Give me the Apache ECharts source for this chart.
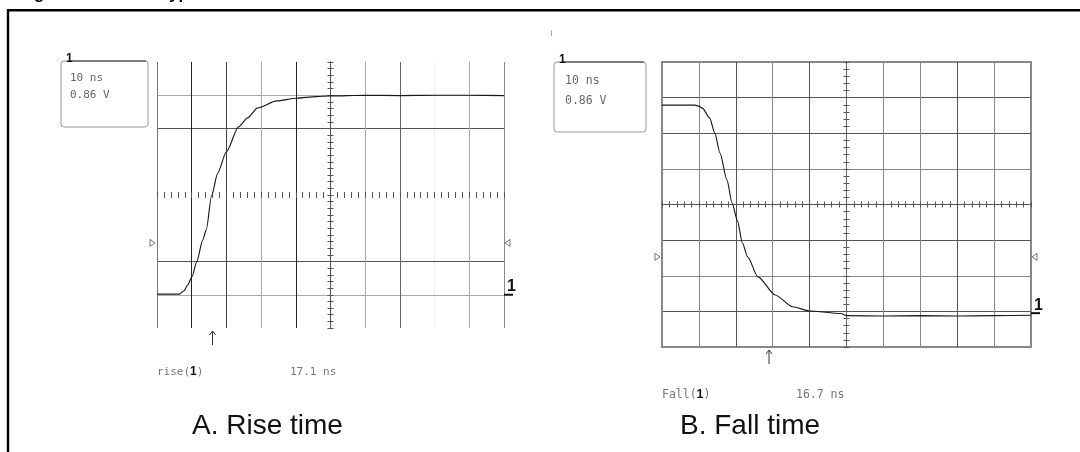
<!DOCTYPE html>
<html>
<head>
<meta charset="utf-8">
<script src="https://cdn.jsdelivr.net/npm/echarts@6/dist/echarts.min.js"></script>
<style>
  html, body { margin: 0; background: #fff; }
  #chart { width: 1080px; height: 452px; }
</style>
</head>
<body>
<div id="chart"></div>
<script>
// time in ns, relative to the screen centre (10 ns/div)
// level in divisions (0.86 V/div)
const timeMin = -50, timeMax = 50, timeStep = 10
const levelMin = -4, levelMax = 4, levelStep = 1

const riseTime  = [-50, -43.5, -42.2, -41.2, -39.9, -38.6, -36.8, -35.8, -34.3, -32.5, -30.0, -26.5, -23.9, -21.0, -15.5, -9.8, -4.1, 0, 10, 20, 30, 40, 50]
const riseLevel = [-2.98, -2.98, -2.88, -2.71, -2.46, -2.02, -1.35, -1.05, -0.03, 0.66, 1.30, 2.05, 2.32, 2.62, 2.83, 2.91, 2.96, 2.98, 3.0, 2.99, 3.0, 3.0, 2.99]

const fallTime  = [-50, -41.1, -40.0, -39.0, -37.1, -35.7, -34.3, -32.4, -31.0, -29.6, -28.2, -26.8, -24.0, -19.3, -14.6, -9.9, -1.5, -0.1, 10, 20, 30, 40, 50]
const fallLevel = [2.79, 2.79, 2.76, 2.70, 2.43, 2.01, 1.45, 0.69, 0.04, -0.44, -1.08, -1.47, -2.03, -2.54, -2.87, -2.99, -3.06, -3.12, -3.13, -3.12, -3.13, -3.12, -3.11]

const scaleLabels   = ['10 ns', '0.86 V']
const measureNames  = ['rise', 'Fall']
const measureValues = ['17.1 ns', '16.7 ns']
const captions      = ['A. Rise time', 'B. Fall time']
const triggerLevel  = [-1.44, -1.47]   // small side triangles
const groundLevel   = [-3, -3.05]      // channel "1" marker
const cursorTime    = [-34.0, -21.0]   // arrow under the screen

const panels = [
  {
    rect: { left: 157, top: 62, width: 347, height: 266 },
    border: false,
    box: [61, 61, 87, 66], boxText: [70, 78, 95], font: 11,
    measure: [157, 290, 372], caption: [192, 426],
    xColors: ['#777', '#222', '#444', '#aaa', '#222', '#555', '#aaa', '#666', 'rgba(0,0,0,0.06)', '#aaa', '#888'],
    yColors: ['rgba(0,0,0,0)', '#aaa', '#555', 'rgba(0,0,0,0)', 'rgba(0,0,0,0)', 'rgba(0,0,0,0)', '#555', '#aaa', 'rgba(0,0,0,0)'],
    hLine: 'rgba(0,0,0,0)', vLine: '#555'
  },
  {
    rect: { left: 662, top: 62, width: 369, height: 285 },
    border: true,
    box: [554, 62, 92, 70], boxText: [565, 81, 101], font: 11.5,
    measure: [662, 796, 395], caption: [680, 426],
    xColors: ['#888', '#888', '#555', '#888', '#555', '#666', '#888', '#888', '#555', '#888', '#888'],
    yColors: ['#888', '#555', '#888', '#555', '#555', '#888', '#555', '#555', '#888'],
    hLine: '#555', vLine: '#666'
  }
]

const chart = echarts.init(document.getElementById('chart'))

const grids = [], xAxes = [], yAxes = []
panels.forEach(p => {
  // main grid: grid lines + outer ticks on the centre lines
  // overlay grid: inner ticks, so the ticks cross the centre lines
  ;[false, true].forEach(inside => {
    const g = grids.length
    grids.push(Object.assign({
      show: p.border && !inside,
      borderColor: '#888',
      borderWidth: 2,
      backgroundColor: 'transparent'
    }, p.rect))
    const tick = { show: true, inside, length: 3, lineStyle: { color: '#555', width: 1 } }
    const minor = { show: true, splitNumber: 5, length: 3, lineStyle: { color: '#555', width: 1 } }
    xAxes.push({
      gridIndex: g, type: 'value', min: timeMin, max: timeMax, interval: timeStep,
      axisLine: { show: true, onZero: true, lineStyle: { color: p.hLine, width: 1 } },
      axisTick: tick, minorTick: minor,
      axisLabel: { show: false },
      splitLine: { show: !inside, lineStyle: { color: p.xColors, width: 1 } }
    })
    yAxes.push({
      gridIndex: g, type: 'value', min: levelMin, max: levelMax, interval: levelStep,
      axisLine: { show: true, onZero: true, lineStyle: { color: p.vLine, width: 1 } },
      axisTick: tick, minorTick: minor,
      axisLabel: { show: false },
      splitLine: { show: !inside, lineStyle: { color: p.yColors, width: 1 } }
    })
  })
})

const trace = (i, t, v) => ({
  type: 'line',
  xAxisIndex: 2 * i,
  yAxisIndex: 2 * i,
  data: t.map((x, k) => [x, v[k]]),
  showSymbol: false,
  symbol: 'none',
  smooth: 0.25,
  smoothMonotone: 'x',
  lineStyle: { color: '#1a1a1a', width: 1.15 },
  silent: true,
  z: 5
})

chart.setOption({
  animation: false,
  backgroundColor: '#fff',
  grid: grids,
  xAxis: xAxes,
  yAxis: yAxes,
  series: [trace(0, riseTime, riseLevel), trace(1, fallTime, fallLevel)]
})

// annotations placed through the axes of each panel
const mono = 'DejaVu Sans Mono'
const graphics = [
  // figure title, mostly cut off at the top of the picture
  { type: 'text', x: 19, y: -5.5, style: { text: 'Figure 14.', font: 'bold 17px "Liberation Sans"', fill: '#000', verticalAlign: 'middle' } },
  { type: 'text', x: 160, y: -5.5, style: { text: 'Typical rise and fall times', font: 'bold 17px "Liberation Sans"', fill: '#000', verticalAlign: 'middle' } },
  // frame
  { type: 'line', shape: { x1: 7, y1: 10.3, x2: 1080, y2: 10.3 }, style: { stroke: '#000', lineWidth: 2.6 } },
  { type: 'line', shape: { x1: 8, y1: 9, x2: 8, y2: 452 }, style: { stroke: '#000', lineWidth: 2.4 } },
  { type: 'line', shape: { x1: 551.5, y1: 30, x2: 551.5, y2: 36 }, style: { stroke: '#aaa', lineWidth: 1 } }
]

panels.forEach((p, i) => {
  const px = (t, v) => chart.convertToPixel({ gridIndex: 2 * i }, [t, v])
  const right = p.rect.left + p.rect.width
  const bottom = p.rect.top + p.rect.height
  const [bx, by, bw, bh] = p.box

  // scale box
  graphics.push(
    { type: 'rect', shape: { x: bx, y: by, width: bw, height: bh, r: 3 }, style: { fill: 'none', stroke: '#999', lineWidth: 1 } },
    { type: 'line', shape: { x1: bx + 9, y1: by, x2: bx + bw - 2, y2: by }, style: { stroke: '#333', lineWidth: 1.2 } },
    { type: 'text', x: bx + 5, y: by + 4, style: { text: '1', font: 'bold 12px "Liberation Sans"', fill: '#111', verticalAlign: 'bottom' } },
    { type: 'text', x: p.boxText[0], y: p.boxText[1], style: { text: scaleLabels[0], font: p.font + 'px "' + mono + '"', fill: '#666', verticalAlign: 'middle' } },
    { type: 'text', x: p.boxText[0], y: p.boxText[2], style: { text: scaleLabels[1], font: p.font + 'px "' + mono + '"', fill: '#666', verticalAlign: 'middle' } }
  )

  // trigger level triangles
  const ty = px(0, triggerLevel[i])[1]
  const lx = p.rect.left - 5, rx = right + 4
  graphics.push(
    { type: 'polygon', shape: { points: [[lx - 2, ty - 3.5], [lx + 3, ty], [lx - 2, ty + 3.5]] }, style: { fill: 'none', stroke: '#777', lineWidth: 1 } },
    { type: 'polygon', shape: { points: [[rx + 2, ty - 3.5], [rx - 3, ty], [rx + 2, ty + 3.5]] }, style: { fill: 'none', stroke: '#777', lineWidth: 1 } }
  )

  // channel marker
  const gy = px(0, groundLevel[i])[1]
  graphics.push(
    { type: 'line', shape: { x1: right, y1: gy, x2: right + 9, y2: gy }, style: { stroke: '#111', lineWidth: 2 } },
    { type: 'text', x: right + 3, y: gy, style: { text: '1', font: 'bold 16px "Liberation Sans"', fill: '#111', verticalAlign: 'bottom' } }
  )

  // cursor arrow
  const ax = px(cursorTime[i], 0)[0]
  graphics.push(
    { type: 'polyline', shape: { points: [[ax, bottom + 3], [ax, bottom + 17]] }, style: { stroke: '#333', lineWidth: 1 } },
    { type: 'polyline', shape: { points: [[ax - 3, bottom + 7], [ax, bottom + 3], [ax + 3, bottom + 7]] }, style: { fill: 'none', stroke: '#333', lineWidth: 1 } }
  )

  // measurement line and caption
  graphics.push(
    { type: 'text', x: p.measure[0], y: p.measure[2], style: {
        text: measureNames[i] + '({b|1})',
        font: p.font + 'px "' + mono + '"', fill: '#777', verticalAlign: 'middle',
        rich: { b: { font: 'bold ' + (p.font + 1) + 'px "Liberation Sans"', fill: '#111' } } } },
    { type: 'text', x: p.measure[1], y: p.measure[2], style: { text: measureValues[i], font: p.font + 'px "' + mono + '"', fill: '#777', verticalAlign: 'middle' } },
    { type: 'text', x: p.caption[0], y: p.caption[1], style: { text: captions[i], font: '28px "Liberation Sans"', fill: '#111', verticalAlign: 'middle' } }
  )
})

chart.setOption({ graphic: graphics })
</script>
</body>
</html>
